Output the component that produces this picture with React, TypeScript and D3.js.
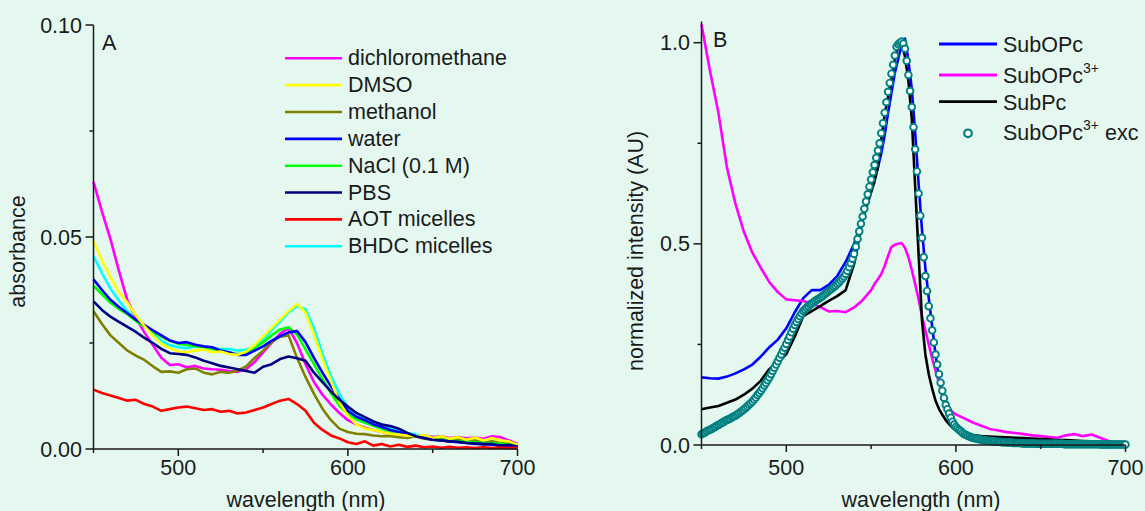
import React, { useEffect } from "react";
import * as d3 from "d3";

// ---------- Panel A data (absorbance) ----------
const wlA = d3.range(450, 701, 5); // 450..700 step 5 (51 points)

const dichloromethane = [0.0630,0.0560,0.0495,0.0420,0.0350,0.0310,0.0275,0.0245,0.0215,0.0198,0.0200,0.0193,0.0196,0.0190,0.0188,0.0187,0.0184,0.0182,0.0188,0.0205,0.0228,0.0250,0.0272,0.0285,0.0250,0.0200,0.0158,0.0128,0.0105,0.0085,0.0068,0.0058,0.0050,0.0045,0.0040,0.0036,0.0034,0.0035,0.0030,0.0032,0.0028,0.0030,0.0026,0.0028,0.0025,0.0027,0.0024,0.0030,0.0028,0.0020,0.0012];
const dmso = [0.0490,0.0445,0.0405,0.0370,0.0345,0.0315,0.0290,0.0268,0.0248,0.0238,0.0230,0.0228,0.0232,0.0235,0.0228,0.0230,0.0224,0.0222,0.0230,0.0245,0.0265,0.0285,0.0305,0.0325,0.0342,0.0322,0.0270,0.0212,0.0160,0.0110,0.0078,0.0058,0.0048,0.0045,0.0040,0.0036,0.0034,0.0032,0.0030,0.0033,0.0026,0.0030,0.0024,0.0028,0.0022,0.0027,0.0020,0.0026,0.0020,0.0018,0.0010];
const methanol = [0.0325,0.0295,0.0268,0.0250,0.0232,0.0220,0.0210,0.0195,0.0182,0.0183,0.0180,0.0188,0.0190,0.0180,0.0176,0.0182,0.0180,0.0185,0.0195,0.0215,0.0232,0.0252,0.0265,0.0268,0.0215,0.0170,0.0130,0.0095,0.0068,0.0048,0.0040,0.0036,0.0035,0.0032,0.0030,0.0031,0.0028,0.0026,0.0030,0.0024,0.0022,0.0025,0.0020,0.0022,0.0018,0.0020,0.0016,0.0018,0.0014,0.0012,0.0006];
const water = [0.0400,0.0375,0.0352,0.0335,0.0320,0.0305,0.0292,0.0280,0.0268,0.0256,0.0250,0.0252,0.0246,0.0242,0.0240,0.0232,0.0228,0.0222,0.0222,0.0232,0.0242,0.0255,0.0266,0.0275,0.0278,0.0252,0.0215,0.0180,0.0148,0.0118,0.0090,0.0076,0.0068,0.0058,0.0052,0.0045,0.0040,0.0034,0.0030,0.0026,0.0022,0.0020,0.0018,0.0016,0.0014,0.0012,0.0012,0.0010,0.0008,0.0008,0.0004];
const nacl = [0.0385,0.0365,0.0345,0.0330,0.0318,0.0302,0.0288,0.0276,0.0265,0.0255,0.0248,0.0246,0.0242,0.0240,0.0236,0.0232,0.0226,0.0224,0.0226,0.0238,0.0252,0.0268,0.0282,0.0287,0.0270,0.0235,0.0200,0.0165,0.0132,0.0102,0.0082,0.0070,0.0062,0.0055,0.0048,0.0042,0.0038,0.0034,0.0030,0.0028,0.0024,0.0022,0.0020,0.0019,0.0017,0.0016,0.0014,0.0014,0.0012,0.0011,0.0008];
const pbs = [0.0348,0.0328,0.0312,0.0300,0.0288,0.0276,0.0262,0.0250,0.0236,0.0226,0.0224,0.0222,0.0216,0.0208,0.0202,0.0196,0.0192,0.0188,0.0184,0.0180,0.0194,0.0200,0.0212,0.0218,0.0214,0.0208,0.0180,0.0158,0.0136,0.0116,0.0100,0.0085,0.0075,0.0065,0.0058,0.0054,0.0048,0.0038,0.0030,0.0026,0.0022,0.0020,0.0018,0.0017,0.0014,0.0013,0.0011,0.0012,0.0008,0.0010,0.0006];
const aot = [0.0140,0.0132,0.0126,0.0120,0.0114,0.0116,0.0106,0.0100,0.0090,0.0094,0.0098,0.0100,0.0096,0.0092,0.0094,0.0088,0.0090,0.0084,0.0086,0.0092,0.0098,0.0106,0.0114,0.0118,0.0106,0.0090,0.0062,0.0045,0.0032,0.0025,0.0016,0.0012,0.0018,0.0008,0.0012,0.0006,0.0010,0.0005,0.0008,0.0004,0.0006,0.0003,0.0005,0.0003,0.0004,0.0002,0.0004,0.0002,0.0003,0.0002,0.0002];
const bhdc = [0.0455,0.0415,0.0378,0.0350,0.0325,0.0306,0.0290,0.0272,0.0255,0.0245,0.0240,0.0238,0.0242,0.0240,0.0238,0.0236,0.0236,0.0232,0.0234,0.0242,0.0258,0.0280,0.0300,0.0322,0.0336,0.0330,0.0285,0.0225,0.0172,0.0130,0.0098,0.0082,0.0072,0.0065,0.0058,0.0050,0.0044,0.0038,0.0034,0.0030,0.0027,0.0025,0.0022,0.0020,0.0019,0.0017,0.0016,0.0014,0.0013,0.0012,0.0010];

const seriesNamesA = ["dichloromethane","DMSO","methanol","water","NaCl (0.1 M)","PBS","AOT micelles","BHDC micelles"];
const seriesColorsA = ["#ff00ff","#ffff00","#808000","#0000ff","#00ff00","#000080","#ff0000","#00ffff"];
const seriesValuesA = [dichloromethane, dmso, methanol, water, nacl, pbs, aot, bhdc];
const drawOrderA = [7, 0, 2, 4, 3, 1, 5, 6];
const yTicksA = [0, 0.05, 0.1];
const yTickLabelsA = ["0.00", "0.05", "0.10"];
const yMinorA = [0.025, 0.075];

// ---------- Panel B data (normalized intensity) ----------
const wlB = [450,455,460,465,470,475,480,485,490,495,500,505,510,515,520,525,530,535,540,545,
  550,552,554,556,558,560,562,564,566,568,570,572,574,576,578,580,582,584,586,588,590,592,594,596,598,600,
  605,610,615,620,625,630,635,640,645,650,655,660,665,670,675,680,685,690,695,700];

const subOPc = [0.168,0.166,0.165,0.170,0.178,0.188,0.200,0.220,0.243,0.262,0.290,0.330,0.365,0.385,0.385,0.398,0.420,0.455,0.500,0.565,
  0.640,0.665,0.690,0.725,0.770,0.825,0.875,0.925,0.960,0.995,1.010,0.955,0.885,0.775,0.650,0.535,0.440,0.365,0.295,0.225,0.165,0.122,0.092,0.070,0.055,0.045,
  0.030,0.022,0.018,0.015,0.014,0.013,0.012,0.012,0.011,0.010,0.009,0.008,0.007,0.006,0.005,0.005,null,null,null,null];
const subOPc3 = [1.045,0.930,0.825,0.690,0.600,0.530,0.478,0.440,0.405,0.380,0.362,0.360,0.358,0.352,0.343,0.332,0.333,0.330,0.342,0.360,
  0.385,0.400,0.412,0.425,0.445,0.470,0.492,0.498,0.500,0.502,0.490,0.467,0.435,0.400,0.362,0.320,0.285,0.250,0.215,0.185,0.155,0.128,0.108,0.092,0.082,0.076,
  0.066,0.056,0.048,0.040,0.036,0.032,0.030,0.027,0.024,0.022,0.020,0.018,0.024,0.027,0.022,0.026,0.018,0.010,0.004,0.001];
const subPc = [0.089,0.093,0.097,0.105,0.113,0.125,0.140,0.160,0.189,0.205,0.226,0.270,0.320,0.333,0.345,0.358,0.370,0.385,0.450,0.560,
  0.628,0.655,0.690,0.760,0.820,0.865,0.910,0.960,0.990,1.000,0.965,0.905,0.810,0.642,0.475,0.310,0.225,0.176,0.140,0.110,0.090,0.075,0.062,0.052,0.043,0.037,
  0.029,0.025,0.022,0.021,0.020,0.019,0.018,0.017,0.016,0.015,0.014,0.012,0.012,0.011,0.010,0.009,null,null,null,null];

// excitation spectrum, 1 nm steps from 450 to 700
const wlExc = d3.range(450, 701, 1);
const subOPc3Exc = [
  0.027,0.029,0.031,0.034,0.036,0.038,0.040,0.043,0.045,0.048,
  0.050,0.052,0.055,0.057,0.060,0.062,0.064,0.066,0.069,0.071,
  0.073,0.076,0.079,0.082,0.085,0.088,0.092,0.096,0.100,0.104,
  0.108,0.113,0.118,0.124,0.129,0.135,0.141,0.148,0.154,0.161,
  0.168,0.176,0.184,0.192,0.200,0.208,0.217,0.225,0.234,0.242,
  0.251,0.261,0.270,0.280,0.289,0.298,0.306,0.313,0.320,0.327,
  0.333,0.337,0.341,0.345,0.349,0.352,0.355,0.358,0.361,0.363,
  0.366,0.369,0.372,0.376,0.379,0.383,0.386,0.389,0.393,0.396,
  0.400,0.404,0.409,0.414,0.419,0.425,0.433,0.442,0.452,0.463,
  0.475,0.493,0.512,0.531,0.550,0.568,0.587,0.605,0.623,0.642,
  0.660,0.678,0.696,0.714,0.732,0.750,0.775,0.800,0.826,0.852,
  0.878,0.900,0.923,0.945,0.968,0.990,0.996,1.000,1.003,0.998,
  0.985,0.955,0.920,0.880,0.840,0.790,0.735,0.680,0.625,0.570,
  0.515,0.467,0.420,0.383,0.345,0.315,0.285,0.255,0.225,0.200,
  0.176,0.155,0.135,0.117,0.100,0.089,0.078,0.068,0.058,0.051,
  0.045,0.041,0.037,0.034,0.030,0.027,0.025,0.023,0.021,0.019,
  0.018,0.017,0.016,0.015,0.014,0.013,0.012,0.012,0.011,0.011,
  0.010,0.010,0.009,0.009,0.008,0.008,0.008,0.007,0.007,0.007,
  0.006,0.006,0.006,0.006,0.005,0.005,0.005,0.005,0.005,0.004,
  0.004,0.004,0.004,0.004,0.004,0.004,0.004,0.003,0.003,0.003,
  0.003,0.003,0.003,0.003,0.003,0.003,0.003,0.003,0.003,0.003,
  0.003,0.003,0.003,0.003,0.002,0.002,0.002,0.002,0.002,0.002,
  0.002,0.002,0.002,0.002,0.002,0.002,0.002,0.002,0.002,0.002,
  0.002,0.002,0.002,0.002,0.002,0.001,0.001,0.001,0.001,0.001,
  0.001,0.001,0.001,0.001,0.001,0.001,0.001,0.001,0.001,0.001,
  0.001
];

const yTicksB = [0, 0.5, 1.0];
const yTickLabelsB = ["0.0", "0.5", "1.0"];
const yMinorB = [0.25, 0.75];
const xTicks = [500, 600, 700];
const xMinor = [450, 550, 650];

const FONT = "'Liberation Sans', Arial, Helvetica, sans-serif";
const FS = 21.5;
const BG = "#e4f8ef";
const AX = "#1a1a1a";

export default function App() {
  useEffect(() => {
    document.body.style.margin = "0";
    document.body.style.background = BG;
  }, []);

  // scales
  const xA = d3.scaleLinear().domain([450, 700]).range([93.5, 517.5]);
  const yA = d3.scaleLinear().domain([0, 0.1]).range([449, 25]);
  const xB = d3.scaleLinear().domain([450, 700]).range([701.5, 1125.5]);
  const yB = d3.scaleLinear().domain([0, 1]).range([445, 42.7]);
  const yBTop = 1.053;

  const lineA = (vals: number[]) =>
    d3.line<number>().x((_, i) => xA(wlA[i])).y((v) => yA(v))(vals) || "";
  const lineB = (vals: (number | null)[]) =>
    d3
      .line<number | null>()
      .defined((v) => v !== null)
      .x((_, i) => xB(wlB[i]))
      .y((v) => yB(v as number))(vals) || "";

  const txt = { fontFamily: FONT, fontSize: FS, fill: AX } as const;

  const legendYA = seriesNamesA.map((_, i) => 58.3 + i * 26.85);

  return (
    <svg width={1145} height={511} style={{ display: "block" }}>
      <rect x={0} y={0} width={1145} height={511} fill={BG} />

      {/* ================= Panel A ================= */}
      <g>
        {drawOrderA.map((k) => (
          <path key={k} d={lineA(seriesValuesA[k])} fill="none" stroke={seriesColorsA[k]} strokeWidth={2.6} strokeLinejoin="round" />
        ))}
        {/* axes */}
        <line x1={xA(450)} x2={xA(700)} y1={yA(0)} y2={yA(0)} stroke={AX} strokeWidth={1.5} />
        <line x1={xA(450)} x2={xA(450)} y1={yA(0)} y2={yA(0.1)} stroke={AX} strokeWidth={1.5} />
        {yTicksA.map((t, i) => (
          <g key={"ya" + t}>
            <line x1={xA(450) - 8} x2={xA(450)} y1={yA(t)} y2={yA(t)} stroke={AX} strokeWidth={1.5} />
            <text x={82} y={yA(t)} dy="0.35em" textAnchor="end" style={txt}>{yTickLabelsA[i]}</text>
          </g>
        ))}
        {yMinorA.map((t) => (
          <line key={"yam" + t} x1={xA(450) - 4} x2={xA(450)} y1={yA(t)} y2={yA(t)} stroke={AX} strokeWidth={1.5} />
        ))}
        {xTicks.map((t) => (
          <g key={"xa" + t}>
            <line x1={xA(t)} x2={xA(t)} y1={yA(0)} y2={yA(0) + 7} stroke={AX} strokeWidth={1.5} />
            <text x={xA(t)} y={475} textAnchor="middle" style={txt}>{t}</text>
          </g>
        ))}
        {xMinor.map((t) => (
          <line key={"xam" + t} x1={xA(t)} x2={xA(t)} y1={yA(0)} y2={yA(0) + 4} stroke={AX} strokeWidth={1.5} />
        ))}
        <text x={306} y={507} textAnchor="middle" style={txt}>wavelength (nm)</text>
        <text transform="translate(25,251.5) rotate(-90)" textAnchor="middle" style={txt}>absorbance</text>
        <text x={102} y={50} style={txt}>A</text>
        {/* legend */}
        {seriesNamesA.map((n, i) => (
          <g key={"lgA" + i}>
            <line x1={285} x2={342} y1={legendYA[i]} y2={legendYA[i]} stroke={seriesColorsA[i]} strokeWidth={2.6} />
            <text x={348} y={legendYA[i]} dy="0.33em" style={txt}>{n}</text>
          </g>
        ))}
      </g>

      {/* ================= Panel B ================= */}
      <g>
        <path d={lineB(subOPc)} fill="none" stroke="#0000ff" strokeWidth={2.6} strokeLinejoin="round" />
        <path d={lineB(subOPc3)} fill="none" stroke="#ff00ff" strokeWidth={2.6} strokeLinejoin="round" />
        <path d={lineB(subPc)} fill="none" stroke="#000000" strokeWidth={2.6} strokeLinejoin="round" />
        {subOPc3Exc.map((v, i) => (
          <circle key={"ex" + i} cx={xB(wlExc[i])} cy={yB(v)} r={3.3} fill="#ffffff" stroke="#008080" strokeWidth={1.9} />
        ))}
        {/* axes */}
        <line x1={xB(450)} x2={xB(700)} y1={yB(0)} y2={yB(0)} stroke={AX} strokeWidth={1.5} />
        <line x1={xB(450)} x2={xB(450)} y1={yB(0)} y2={yB(yBTop)} stroke={AX} strokeWidth={1.5} />
        {yTicksB.map((t, i) => (
          <g key={"yb" + t}>
            <line x1={xB(450) - 8} x2={xB(450)} y1={yB(t)} y2={yB(t)} stroke={AX} strokeWidth={1.5} />
            <text x={690} y={yB(t)} dy="0.35em" textAnchor="end" style={txt}>{yTickLabelsB[i]}</text>
          </g>
        ))}
        {yMinorB.map((t) => (
          <line key={"ybm" + t} x1={xB(450) - 4} x2={xB(450)} y1={yB(t)} y2={yB(t)} stroke={AX} strokeWidth={1.5} />
        ))}
        {xTicks.map((t) => (
          <g key={"xb" + t}>
            <line x1={xB(t)} x2={xB(t)} y1={yB(0)} y2={yB(0) + 7} stroke={AX} strokeWidth={1.5} />
            <text x={xB(t)} y={475} textAnchor="middle" style={txt}>{t}</text>
          </g>
        ))}
        {xMinor.map((t) => (
          <line key={"xbm" + t} x1={xB(t)} x2={xB(t)} y1={yB(0)} y2={yB(0) + 4} stroke={AX} strokeWidth={1.5} />
        ))}
        <text x={921} y={507} textAnchor="middle" style={txt}>wavelength (nm)</text>
        <text transform="translate(643,251) rotate(-90)" textAnchor="middle" style={txt}>normalized intensity (AU)</text>
        <text x={713} y={47} style={txt}>B</text>
        {/* legend */}
        <line x1={939} x2={997} y1={44} y2={44} stroke="#0000ff" strokeWidth={2.8} />
        <text x={1003} y={51.7} style={txt}>SubOPc</text>
        <line x1={939} x2={997} y1={75} y2={75} stroke="#ff00ff" strokeWidth={2.8} />
        <text x={1003} y={83.3} style={txt}>SubOPc<tspan fontSize={14} dy={-10}>3+</tspan></text>
        <line x1={939} x2={997} y1={101.7} y2={101.7} stroke="#000000" strokeWidth={2.8} />
        <text x={1003} y={110} style={txt}>SubPc</text>
        <circle cx={968} cy={133.3} r={3.8} fill="#ffffff" stroke="#008080" strokeWidth={2.2} />
        <text x={1003} y={140} style={txt}>SubOPc<tspan fontSize={14} dy={-10}>3+</tspan><tspan dy={10}> exc</tspan></text>
      </g>
    </svg>
  );
}
